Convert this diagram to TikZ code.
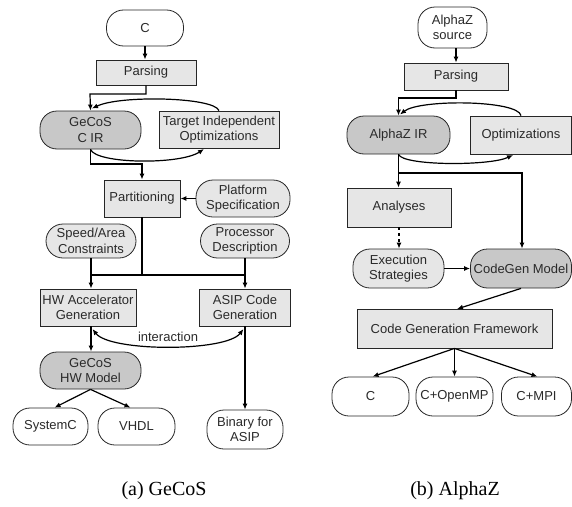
\documentclass[tikz,border=0pt]{standalone}
\usepackage{fontspec}
\setmainfont{Liberation Sans}
\newfontfamily\capfont{Liberation Serif}
\usetikzlibrary{arrows.meta,calc}
\definecolor{lightfill}{HTML}{E6E6E6}
\definecolor{darkfill}{HTML}{C8C8C8}
\definecolor{txt}{HTML}{2A2A2A}
\begin{document}
\begin{tikzpicture}[x=1pt,y=-1pt,
  base/.style={draw=black!85,line width=0.8pt,text=txt,align=center,inner sep=0pt,
     font=\fontsize{13}{15.5}\selectfont},
  boxn/.style={base,fill=lightfill},
  pill/.style={base,rounded corners=17pt,fill=white},
  lpill/.style={pill,fill=lightfill},
  dpill/.style={pill,fill=darkfill},
  sz/.style 2 args={minimum width=#1,minimum height=#2},
  ln/.style={line width=1.2pt,black},
  arr/.style={ln,-{Latex[length=6pt,width=5pt]}},
  arrb/.style={ln,{Latex[length=6pt,width=5pt]}-{Latex[length=6pt,width=5pt]}},
  captext/.style={font=\capfont\fontsize{20}{24}\selectfont,text=black}]
\useasboundingbox (0,0) rectangle (572,506);
% ---------- left: GeCoS ----------
\node[pill,sz={77}{36}] (cL) at (145,28) {C};
\node[boxn,sz={100}{25}] (parseL) at (146,72.5) {Parsing};
\node[dpill,sz={101}{38}] (gecos) at (90.5,130) {GeCoS\\C IR};
\node[boxn,sz={120}{37}] (tio) at (219,129.5) {Target Independent\\Optimizations};
\node[boxn,sz={76}{37}] (part) at (142,198.5) {Partitioning};
\node[lpill,sz={94}{37}] (plat) at (243,198.5) {Platform\\Specification};
\node[lpill,sz={90}{34}] (speed) at (91,241) {Speed/Area\\Constraints};
\node[lpill,sz={89}{34}] (proc) at (245,241) {Processor\\Description};
\node[boxn,sz={96}{37}] (hw) at (88,307.5) {HW Accelerator\\Generation};
\node[boxn,sz={91}{37}] (asip) at (245,307.5) {ASIP Code\\Generation};
\node[dpill,sz={101}{37}] (hwm) at (90.5,370.5) {GeCoS\\HW Model};
\node[pill,sz={75}{37}] (sysc) at (50.5,426.5) {SystemC};
\node[pill,sz={77}{37}] (vhdl) at (136.5,426.5) {VHDL};
\node[pill,sz={76}{39}] (bin) at (245,429.5) {Binary for\\ASIP};
\node[font=\fontsize{13}{15.5}\selectfont,text=txt] (inter) at (168,337) {interaction};
\node[captext] (capa) at (164,491) {(a) GeCoS};
% junctions
\coordinate (j1) at (90,94);
\coordinate (j2) at (142,164);
\coordinate (j3) at (142,275);
\coordinate (ia) at (92.5,329);
\coordinate (ib) at (243.5,329);
\coordinate (tioin) at (204,149);
\coordinate (gecin) at (92,108.5);
% connectors
\draw[arr] (cL.south) -- (cL.south |- parseL.north);
\draw[arr] (parseL.south) |- (j1) -- (gecos.north);
\draw[arr] (tio.north) .. controls (214,97) and (120,95) .. (gecin);
\draw[arr] (gecos.south) .. controls (96,164) and (180,165) .. (tioin);
\draw[arr] (gecos.south) |- (j2) -- (part.north);
\draw[arr] (plat.west) -- (part.east);
\draw[ln] (part.south) -- (j3);
\draw[ln] (speed.south |- j3) -- (proc.south |- j3);
\draw[arr] (speed.south) -- (speed.south |- hw.north);
\draw[arr] (proc.south) -- (asip.north);
\draw[arr] (speed.south |- hw.south) -- (speed.south |- hwm.north);
\draw[arr] (asip.south) -- (bin.north);
\draw[arrb] (ia) .. controls (110,352) and (226,352) .. (ib);
\draw[arr] (hwm.south) -- ($(sysc.north)+(4,0)$);
\draw[arr] (hwm.south) -- ($(vhdl.north)+(-6,0)$);
% ---------- right: AlphaZ ----------
\node[pill,sz={69}{41}] (src) at (452.5,27.5) {AlphaZ\\source};
\node[boxn,sz={104}{27}] (parseR) at (456,76.5) {Parsing};
\node[dpill,sz={103}{38}] (air) at (398.5,135) {AlphaZ IR};
\node[boxn,sz={101}{38}] (opt) at (521,135) {Optimizations};
\node[boxn,sz={104}{39}] (ana) at (399,207.5) {Analyses};
\node[lpill,sz={91}{39}] (exe) at (398.5,268.5) {Execution\\Strategies};
\node[dpill,sz={101}{39}] (cgm) at (521,268.5) {CodeGen Model};
\node[boxn,sz={195}{39}] (cgf) at (454.5,328.5) {Code Generation Framework};
\node[pill,sz={77}{39}] (c2) at (370.5,396.5) {C};
\node[pill,sz={77}{39}] (omp) at (454.5,396.5) {C+OpenMP};
\node[pill,sz={70}{39}] (mpi) at (536.5,396.5) {C+MPI};
\node[captext] (capb) at (455,491) {(b) AlphaZ};
\coordinate (j4) at (398.5,98);
\coordinate (j5) at (522,173);
\coordinate (airin) at (400,114.5);
\coordinate (optin) at (513,155);
\coordinate (cgfin) at (457,309);
% connectors
\draw[arr] (parseR.north |- src.south) -- (parseR.north);
\draw[arr] (parseR.south) |- (j4) -- (air.north);
\draw[arr] (opt.north) .. controls (518,100) and (420,99) .. (airin);
\draw[arr] (air.south) .. controls (403,166) and (490,166) .. (optin);
\draw[arr] (air.south) |- (j5) -- (j5 |- cgm.north);
\draw[arr] (air.south) -- (air.south |- ana.north);
\draw[arr,dashed] (ana.south) -- (ana.south |- exe.north);
\draw[arr] (exe.east) -- (cgm.west);
\draw[arr] (cgm.south) -- (cgfin);
\draw[arr] (cgf.south) -- ($(c2.north)+(2,0)$);
\draw[arr] (cgf.south) -- (omp.north);
\draw[arr] (cgf.south) -- ($(mpi.north)+(1,0)$);
\end{tikzpicture}
\end{document}
